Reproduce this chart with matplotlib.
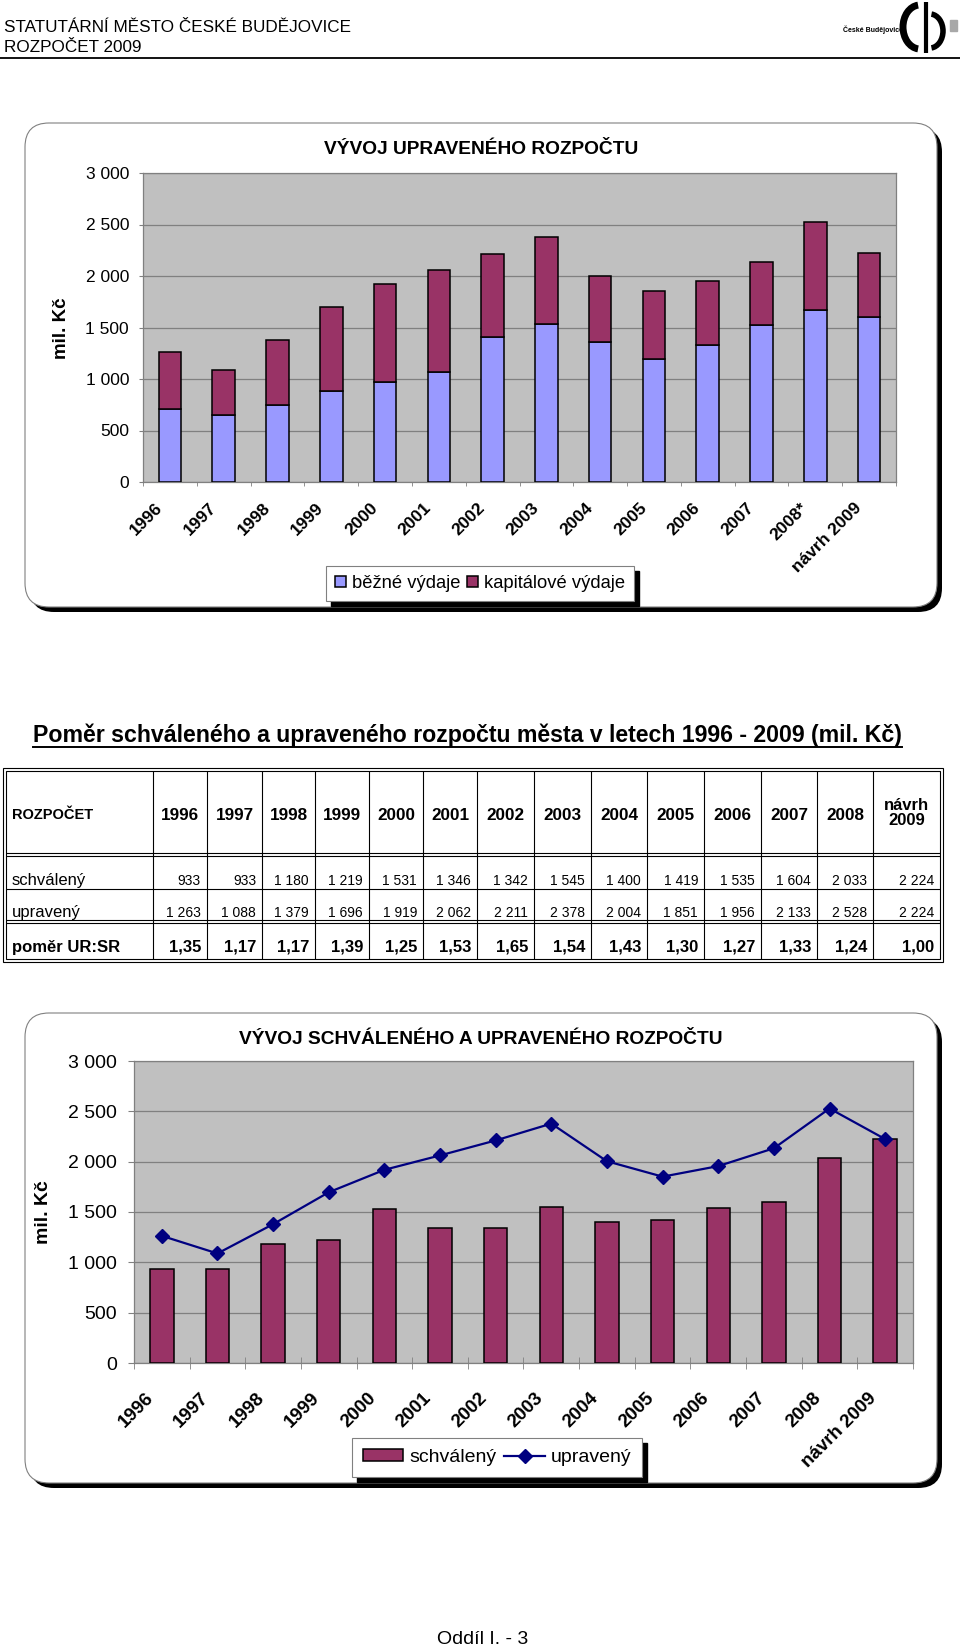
# Vyvoj upraveneho a schvaleneho rozpoctu - Ceske Budejovice 2009
import numpy as np
import matplotlib
matplotlib.use('Agg')
import matplotlib.pyplot as plt
from matplotlib.patches import FancyBboxPatch, Rectangle, Arc
from matplotlib.ticker import FuncFormatter

plt.rcParams['font.family'] = ['Liberation Sans', 'DejaVu Sans']

W, H = 960, 1647

# data
years = ['1996', '1997', '1998', '1999', '2000', '2001', '2002',
         '2003', '2004', '2005', '2006', '2007', '2008', '2009']
top_labels = years[:12] + ['2008*', 'návrh 2009']
bot_labels = years[:13] + ['návrh 2009']
table_cols = years[:13] + ['návrh\n2009']

bezne = [704, 655, 752, 885, 967, 1067, 1411, 1537, 1356, 1197, 1330, 1521, 1670, 1606]
kapitalove = [559, 433, 627, 811, 952, 995, 800, 841, 648, 654, 626, 612, 858, 618]
schvaleny = [933, 933, 1180, 1219, 1531, 1346, 1342, 1545, 1400, 1419, 1535, 1604, 2033, 2224]
upraveny = [1263, 1088, 1379, 1696, 1919, 2062, 2211, 2378, 2004, 1851, 1956, 2133, 2528, 2224]
pomer = ['1,35', '1,17', '1,17', '1,39', '1,25', '1,53', '1,65',
         '1,54', '1,43', '1,30', '1,27', '1,33', '1,24', '1,00']

C_BEZ = '#9999FF'
C_KAP = '#993366'
C_LINE = '#000080'
C_BG = '#C0C0C0'
C_GRID = '#808080'


def fmt(v):
    return f'{int(v):,}'.replace(',', ' ')


def fbox(l, t, r, b):
    # pixel box (top-left origin) -> figure fraction rect
    return [l / W, 1 - b / H, (r - l) / W, (b - t) / H]


fig = plt.figure(figsize=(W / 100, H / 100), dpi=100)
page = fig.add_axes([0, 0, 1, 1], zorder=0)
page.set_xlim(0, W)
page.set_ylim(H, 0)
page.axis('off')

# ---- header
page.text(4, 27, 'STATUTÁRNÍ MĚSTO ČESKÉ BUDĚJOVICE', fontsize=12.3, va='center')
page.text(4, 48, 'ROZPOČET 2009', fontsize=12.3, va='center')
page.plot([0, W], [58, 58], color='black', lw=1.3)
page.text(843, 30, 'České Budějovice', fontsize=5, weight='bold', va='center')
page.add_patch(Arc((920, 27), 34, 44, theta1=95, theta2=265, lw=5, color='black'))
page.add_patch(Arc((930, 31), 26, 34, theta1=-85, theta2=85, lw=4, color='black'))
page.plot([926, 926], [2, 53], color='black', lw=3, solid_capstyle='butt')
page.add_patch(Rectangle((950, 20), 7, 11, color='#A8A8A8'))


def chart_box(l, t, r, b):
    sh = FancyBboxPatch((l + 5, t + 5), r - l, b - t,
                        boxstyle='round,pad=0,rounding_size=24',
                        fc='black', ec='none', zorder=1)
    bx = FancyBboxPatch((l, t), r - l, b - t,
                        boxstyle='round,pad=0,rounding_size=24',
                        fc='white', ec='#808080', lw=0.8, zorder=2)
    page.add_patch(sh)
    page.add_patch(bx)


def style_axes(ax, ytick_len, xtick_len, xtick_dir, yfs):
    ax.set_facecolor(C_BG)
    ax.set_ylim(0, 3000)
    ax.set_xlim(-0.5, 13.5)
    ax.set_yticks(range(0, 3001, 500))
    ax.yaxis.set_major_formatter(FuncFormatter(lambda v, p: fmt(v)))
    ax.yaxis.grid(True, color=C_GRID, lw=0.9)
    ax.set_axisbelow(True)
    for s in ax.spines.values():
        s.set_color(C_GRID)
        s.set_linewidth(0.9)
    ax.set_xticks(np.arange(-0.5, 14, 1), minor=True)
    ax.tick_params(axis='y', length=ytick_len, color=C_GRID, labelsize=yfs, pad=7)
    ax.tick_params(axis='x', which='minor', length=xtick_len, direction=xtick_dir,
                   color=C_GRID)


x = np.arange(len(years))

# ---- top chart
chart_box(25, 123, 937, 607)
ax1 = fig.add_axes(fbox(143, 173, 896, 482), zorder=2)
style_axes(ax1, 3, 3, 'out', 12.5)
b1 = ax1.bar(x, bezne, 0.42, color=C_BEZ, edgecolor='black', lw=1.1, zorder=3)
b2 = ax1.bar(x, kapitalove, 0.42, bottom=bezne, color=C_KAP, edgecolor='black',
             lw=1.1, zorder=3)
ax1.set_xticks(x - 0.28, top_labels, rotation=45, ha='right', va='top',
               rotation_mode='anchor', fontsize=12.5, weight='bold')
ax1.tick_params(axis='x', which='major', length=0, pad=13)
page.text(481, 150, 'VÝVOJ UPRAVENÉHO ROZPOČTU', fontsize=13.8, weight='bold',
          ha='center', va='center', zorder=5)
page.text(62, 328, 'mil. Kč', fontsize=13.5, weight='bold', rotation=90,
          ha='center', va='center', zorder=5)
leg1 = ax1.legend([b1, b2], ['běžné výdaje', 'kapitálové výdaje'], ncol=2,
                  loc='center', bbox_to_anchor=(480 / W, 1 - 583.5 / H),
                  bbox_transform=fig.transFigure, fontsize=13.2, fancybox=False,
                  edgecolor='#808080', framealpha=1, handlelength=0.6,
                  handleheight=0.6, handletextpad=0.3, columnspacing=0.4,
                  borderpad=0.5, borderaxespad=0)
leg1.get_frame().set_linewidth(0.8)

# ---- table heading
head = page.text(33, 742, 'Poměr schváleného a upraveného rozpočtu města v letech '
                 '1996 - 2009 (mil. Kč)', fontsize=16.7, weight='bold', va='baseline')

# ---- table
col_edges = [3, 153, 207, 262, 315, 369, 423, 477, 534, 591, 647, 704, 761, 817, 873, 943]
lk = dict(color='black', lw=0.8, solid_capstyle='butt')
page.add_patch(Rectangle((3, 768), 940, 194, fill=False, ec='black', lw=0.8))
page.add_patch(Rectangle((6, 771), 934, 188, fill=False, ec='black', lw=0.8))
for yy in (852.5, 855.5, 889, 919.5, 922.5):
    page.plot([6, 940], [yy, yy], **lk)
for xx in col_edges[1:-1]:
    page.plot([xx, xx], [771, 959], **lk)

page.text(12, 819, 'ROZPOČET', fontsize=10.5, weight='bold', va='baseline')
page.text(12, 885, 'schválený', fontsize=12, va='baseline')
page.text(12, 917, 'upravený', fontsize=12, va='baseline')
page.text(12, 952, 'poměr UR:SR', fontsize=12, weight='bold', va='baseline')
for i, lab in enumerate(table_cols):
    l, r = col_edges[i + 1], col_edges[i + 2]
    if i == len(table_cols) - 1:
        r = 940
    cx = (l + r) / 2
    if '\n' in lab:
        page.text(cx, 813, lab, fontsize=12, weight='bold', ha='center',
                  va='center', linespacing=1.05)
    else:
        page.text(cx, 820, lab, fontsize=12.3, weight='bold', ha='center',
                  va='baseline')
    page.text(r - 6, 885, fmt(schvaleny[i]), fontsize=10, ha='right', va='baseline')
    page.text(r - 6, 917, fmt(upraveny[i]), fontsize=10, ha='right', va='baseline')
    page.text(r - 6, 952, pomer[i], fontsize=12, weight='bold', ha='right',
              va='baseline')

# ---- bottom chart
chart_box(25, 1013, 937, 1483)
ax2 = fig.add_axes(fbox(134, 1061, 913, 1363), zorder=2)
style_axes(ax2, 4.5, 8.5, 'inout', 14)
b3 = ax2.bar(x, schvaleny, 0.42, color=C_KAP, edgecolor='black', lw=1.1, zorder=3)
ln, = ax2.plot(x, upraveny, color=C_LINE, lw=1.6, marker='D', ms=7.5, zorder=4)
ax2.set_xticks(x - 0.31, bot_labels, rotation=45, ha='right', va='top',
               rotation_mode='anchor', fontsize=13.5, weight='bold')
ax2.tick_params(axis='x', which='major', length=0, pad=19)
ax2.tick_params(axis='y', pad=8)
page.text(481, 1040, 'VÝVOJ SCHVÁLENÉHO A UPRAVENÉHO ROZPOČTU', fontsize=13.8,
          weight='bold', ha='center', va='center', zorder=5)
page.text(43, 1212, 'mil. Kč', fontsize=14, weight='bold', rotation=90,
          ha='center', va='center', zorder=5)
leg2 = ax2.legend([b3, ln], ['schválený', 'upravený'], ncol=2,
                  loc='center', bbox_to_anchor=(497 / W, 1 - 1457.5 / H),
                  bbox_transform=fig.transFigure, fontsize=14, fancybox=False,
                  edgecolor='#808080', framealpha=1, handlelength=2.1,
                  handleheight=0.55, handletextpad=0.3, columnspacing=0.4,
                  borderpad=0.55, borderaxespad=0)
leg2.get_frame().set_linewidth(0.8)

# ---- footer
page.text(483, 1644, 'Oddíl I. - 3', fontsize=14, ha='center', va='baseline')

# underline heading, legend shadows (need rendered sizes)
fig.canvas.draw()
hb = head.get_window_extent()
page.plot([hb.x0, hb.x1], [747, 747], color='black', lw=1.4)
for leg in (leg1, leg2):
    bb = leg.get_window_extent()
    page.add_patch(Rectangle((bb.x0 + 5, H - bb.y1 + 5), bb.width, bb.height,
                             color='black', zorder=3))

fig.savefig('out.png', dpi=100)
